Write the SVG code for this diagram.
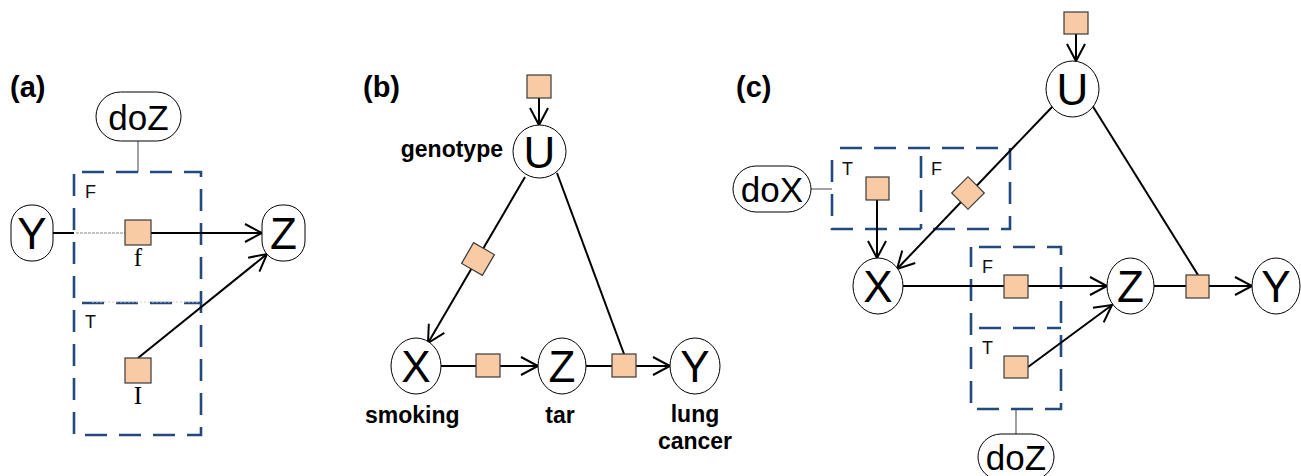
<svg xmlns="http://www.w3.org/2000/svg" width="1301" height="476" viewBox="0 0 1301 476">
<style>
.node{fill:#fff;stroke:#000;stroke-width:1}
.fac{fill:#F9CBA5;stroke:#3a3a3a;stroke-width:1.2}
.box{fill:none;stroke:#24497E;stroke-width:2.6;stroke-dasharray:22 12;stroke-dashoffset:-8}
.edge{fill:none;stroke:#000;stroke-width:2}
.thin{fill:none;stroke:#444;stroke-width:1}
.big{font-family:"Liberation Sans",Arial,sans-serif;font-size:44px;text-anchor:middle;fill:#000}
.do{font-family:"Liberation Sans",Arial,sans-serif;font-size:35px;text-anchor:middle;fill:#000}
.lab{font-family:"Liberation Sans",Arial,sans-serif;font-size:18px;fill:#111}
.bold{font-family:"Liberation Sans",Arial,sans-serif;font-size:23px;font-weight:bold;fill:#000}
.title{font-family:"Liberation Sans",Arial,sans-serif;font-size:29px;font-weight:bold;fill:#000}
.serif{font-family:"Liberation Serif","Times New Roman",serif;font-size:25px;text-anchor:middle;fill:#000}
</style>
<defs>
<marker id="arr" markerUnits="userSpaceOnUse" markerWidth="24" markerHeight="24" viewBox="-20 -12 24 24" refX="0" refY="0" orient="auto">
<path d="M-17,-9 L0,0 L-17,9" fill="none" stroke="#000" stroke-width="2"/>
</marker>
</defs>

<!-- titles -->
<text class="title" x="10" y="97">(a)</text>
<text class="title" x="363" y="97">(b)</text>
<text class="title" x="736" y="97">(c)</text>

<!-- ===== Panel (a) ===== -->
<g id="a-boxes">
<rect class="box" x="74" y="172" width="127" height="263"/>
<line class="box" x1="74" y1="303" x2="201" y2="303"/>
<line x1="92" y1="302" x2="200" y2="302" stroke="#cfcfcf" stroke-width="1" stroke-dasharray="2 2"/>
<text class="lab" x="85" y="198">F</text>
<text class="lab" x="85" y="328">T</text>
</g>
<g id="a-connectors">
<line class="thin" x1="138" y1="141" x2="138" y2="172"/>
<line class="edge" x1="53" y1="233" x2="74" y2="233"/>
<line x1="76" y1="233" x2="125" y2="233" stroke="#c4c4c4" stroke-width="2" stroke-dasharray="3 1"/>
<line class="edge" x1="151" y1="233" x2="262" y2="233" marker-end="url(#arr)"/>
<line class="edge" x1="138" y1="358" x2="267" y2="254" marker-end="url(#arr)"/>
</g>
<g id="a-doZ">
<rect class="node" x="96" y="92" width="85" height="49" rx="24.5"/>
<text class="do" x="138.5" y="130">doZ</text>
</g>
<g id="a-Y">
<rect class="node" x="11" y="205" width="42" height="56" rx="20"/>
<text class="big" x="32" y="249">Y</text>
</g>
<g id="a-Z">
<rect class="node" x="262" y="205" width="43" height="56" rx="20"/>
<text class="big" x="283.5" y="249">Z</text>
</g>
<g id="a-f">
<rect class="fac" x="125" y="220" width="26" height="25"/>
<text class="serif" x="138" y="266">f</text>
</g>
<g id="a-I">
<rect class="fac" x="125" y="358" width="26" height="25"/>
<text class="serif" x="138" y="404">I</text>
</g>

<!-- ===== Panel (b) ===== -->
<g id="b-connectors">
<line class="edge" x1="539" y1="98" x2="539" y2="125" marker-end="url(#arr)"/>
<line class="edge" x1="525" y1="177" x2="428" y2="343" marker-end="url(#arr)"/>
<line class="edge" x1="557" y1="173" x2="624" y2="354"/>
<line class="edge" x1="441" y1="366" x2="538" y2="366" marker-end="url(#arr)"/>
<line class="edge" x1="586" y1="366" x2="670" y2="366" marker-end="url(#arr)"/>
</g>
<g id="b-fU"><rect class="fac" x="527" y="75" width="24" height="23"/></g>
<g id="b-U">
<ellipse class="node" cx="539.5" cy="151.5" rx="26.5" ry="26.5"/>
<text class="big" x="539.5" y="167.5">U</text>
<text class="bold" x="503" y="157" text-anchor="end">genotype</text>
</g>
<g id="b-fUX"><rect class="fac" x="466" y="247" width="24" height="24" transform="rotate(30 478 259)"/></g>
<g id="b-X">
<ellipse class="node" cx="416" cy="366" rx="25" ry="28"/>
<text class="big" x="416" y="382">X</text>
<text class="bold" x="365" y="423">smoking</text>
</g>
<g id="b-fXZ"><rect class="fac" x="476" y="354" width="24" height="23"/></g>
<g id="b-Z">
<ellipse class="node" cx="562" cy="366" rx="24" ry="28"/>
<text class="big" x="562" y="382">Z</text>
<text class="bold" x="560" y="423" text-anchor="middle">tar</text>
</g>
<g id="b-fZY"><rect class="fac" x="612" y="354" width="24" height="23"/></g>
<g id="b-Y">
<ellipse class="node" cx="695" cy="366" rx="25" ry="28"/>
<text class="big" x="695" y="382">Y</text>
<text class="bold" x="695" y="422" text-anchor="middle">lung</text>
<text class="bold" x="695" y="449" text-anchor="middle">cancer</text>
</g>

<!-- ===== Panel (c) ===== -->
<g id="c-boxes">
<rect class="box" x="832" y="148" width="178" height="81"/>
<line class="box" x1="921" y1="148" x2="921" y2="229"/>
<text class="lab" x="842" y="175">T</text>
<text class="lab" x="931" y="175">F</text>
<rect class="box" x="971" y="247" width="90" height="162"/>
<line class="box" x1="971" y1="328" x2="1061" y2="328"/>
<text class="lab" x="982" y="273">F</text>
<text class="lab" x="982" y="354">T</text>
</g>
<g id="c-connectors">
<line class="thin" x1="811" y1="189" x2="832" y2="189"/>
<line class="thin" x1="1016" y1="409" x2="1016" y2="434"/>
<line class="edge" x1="1076" y1="34" x2="1076" y2="61" marker-end="url(#arr)"/>
<line class="edge" x1="877" y1="200" x2="877" y2="258" marker-end="url(#arr)"/>
<line class="edge" x1="1053" y1="106" x2="897" y2="269" marker-end="url(#arr)"/>
<line class="edge" x1="903" y1="286" x2="1107" y2="286" marker-end="url(#arr)"/>
<line class="edge" x1="1028" y1="367" x2="1112" y2="305" marker-end="url(#arr)"/>
<line class="edge" x1="1154" y1="286" x2="1252" y2="286" marker-end="url(#arr)"/>
<line class="edge" x1="1092" y1="105" x2="1198" y2="275"/>
</g>
<g id="c-fU"><rect class="fac" x="1064" y="12" width="24" height="22"/></g>
<g id="c-U">
<ellipse class="node" cx="1072.5" cy="89" rx="26.5" ry="28"/>
<text class="big" x="1072.5" y="105">U</text>
</g>
<g id="c-doX">
<rect class="node" x="733" y="166" width="78" height="46" rx="23"/>
<text class="do" x="772" y="202">doX</text>
</g>
<g id="c-fT"><rect class="fac" x="866" y="177" width="23" height="23"/></g>
<g id="c-fUX"><rect class="fac" x="956.5" y="181.5" width="23" height="23" transform="rotate(45 968 193)"/></g>
<g id="c-X">
<ellipse class="node" cx="878" cy="286" rx="25" ry="28"/>
<text class="big" x="878" y="302">X</text>
</g>
<g id="c-fF"><rect class="fac" x="1004" y="275" width="24" height="23"/></g>
<g id="c-fTZ"><rect class="fac" x="1004" y="356" width="24" height="22"/></g>
<g id="c-Z">
<ellipse class="node" cx="1130.5" cy="286" rx="23.5" ry="28"/>
<text class="big" x="1130.5" y="302">Z</text>
</g>
<g id="c-fZY"><rect class="fac" x="1186" y="275" width="23" height="23"/></g>
<g id="c-Y">
<ellipse class="node" cx="1276" cy="286" rx="24" ry="28"/>
<text class="big" x="1276" y="302">Y</text>
</g>
<g id="c-doZ">
<rect class="node" x="978" y="434" width="76" height="46" rx="23"/>
<text class="do" x="1016" y="470">doZ</text>
</g>
</svg>
